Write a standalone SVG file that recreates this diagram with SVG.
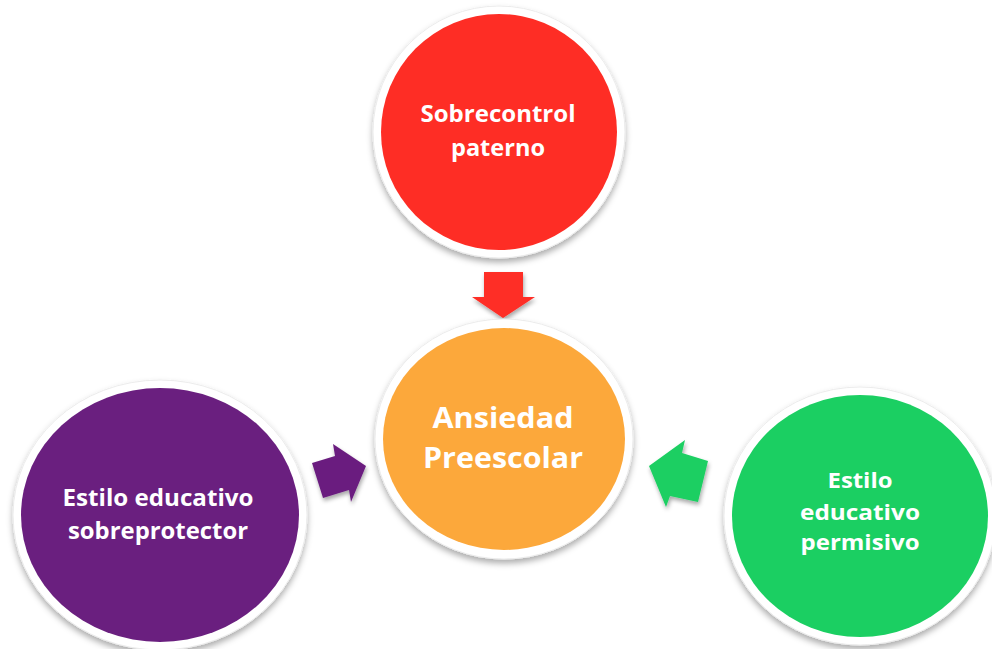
<svg xmlns="http://www.w3.org/2000/svg" width="992" height="649" viewBox="0 0 992 649">
  <defs>
    <filter id="soft" x="-20%" y="-20%" width="140%" height="150%">
      <feDropShadow dx="0" dy="4" stdDeviation="3" flood-color="#000" flood-opacity="0.32"/>
    </filter>
    <filter id="arrowShadow" x="-30%" y="-30%" width="160%" height="170%">
      <feDropShadow dx="1" dy="3" stdDeviation="2" flood-color="#000" flood-opacity="0.35"/>
    </filter>
  </defs>
  <style>
    .ring { fill: #ffffff; stroke: #ececec; stroke-width: 1; filter: url(#soft); }
    .label { font-family: "Open Sans", "Lato", "Liberation Sans", sans-serif; font-weight: bold; fill: #ffffff; text-anchor: middle; font-variant-ligatures: none; }
    .red { fill: #FE2D25; }
    .orange { fill: #FCA83B; }
    .purple { fill: #6A1F7F; }
    .green { fill: #1BCF62; }
  </style>
  <rect width="992" height="649" fill="#ffffff"/>

  <!-- connectors: block arrows pointing into the centre -->
  <g id="connectors" filter="url(#arrowShadow)">
    <polygon class="red" points="484,272 523,272 523,297 535,297 503,318 472,297 484,297"/>
    <polygon class="purple" points="312,463 335,456 333,444 366,466 351,502 349,490 323,498"/>
    <polygon class="green" points="649,466 685,440 682,453 708,461 698,502 670,496 666,507"/>
  </g>

  <g id="node-sobrecontrol">
    <ellipse class="ring" cx="499" cy="132" rx="126" ry="126"/>
    <ellipse class="red" cx="499" cy="132" rx="118" ry="118"/>
    <text class="label" x="498" y="122" font-size="24" textLength="155" lengthAdjust="spacingAndGlyphs">Sobrecontrol</text>
    <text class="label" x="498" y="156" font-size="24" textLength="94" lengthAdjust="spacingAndGlyphs">paterno</text>
  </g>

  <g id="node-ansiedad">
    <ellipse class="ring" cx="504" cy="439" rx="129" ry="120"/>
    <ellipse class="orange" cx="504" cy="439" rx="121" ry="111"/>
    <text class="label" x="503" y="428" font-size="29" textLength="141" lengthAdjust="spacingAndGlyphs">Ansiedad</text>
    <text class="label" x="503" y="468" font-size="29" textLength="160" lengthAdjust="spacingAndGlyphs">Preescolar</text>
  </g>

  <g id="node-sobreprotector">
    <ellipse class="ring" cx="160" cy="515" rx="147" ry="135"/>
    <ellipse class="purple" cx="160" cy="515" rx="139" ry="127"/>
    <text class="label" x="158" y="506" font-size="23" textLength="191" lengthAdjust="spacingAndGlyphs">Estilo educativo</text>
    <text class="label" x="158" y="539" font-size="23" textLength="180" lengthAdjust="spacingAndGlyphs">sobreprotector</text>
  </g>

  <g id="node-permisivo">
    <ellipse class="ring" cx="860" cy="516" rx="136" ry="129"/>
    <ellipse class="green" cx="860" cy="516" rx="128" ry="121"/>
    <text class="label" x="860" y="488" font-size="22" textLength="65" lengthAdjust="spacingAndGlyphs">Estilo</text>
    <text class="label" x="860" y="520" font-size="22" textLength="120" lengthAdjust="spacingAndGlyphs">educativo</text>
    <text class="label" x="860" y="550" font-size="22" textLength="119" lengthAdjust="spacingAndGlyphs">permisivo</text>
  </g>
</svg>
